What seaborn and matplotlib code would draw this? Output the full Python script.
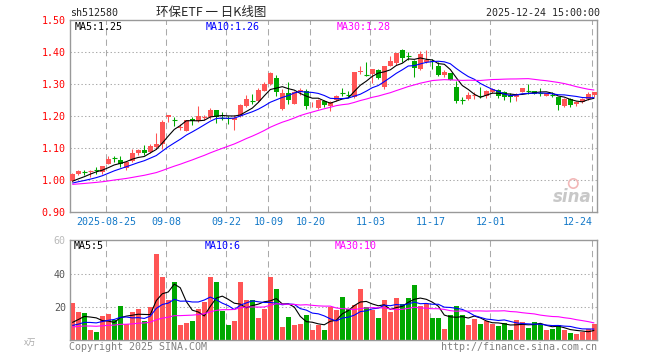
import numpy as np
import pandas as pd
import matplotlib
matplotlib.use('Agg')
import matplotlib.pyplot as plt
import seaborn as sns

# ---------- dados (sh512580, 2025-08-15 .. 2025-12-24) ----------
open_ = [0.998, 1.021, 1.027, 1.026, 1.032, 1.025, 1.052, 1.070, 1.064, 1.037,
         1.061, 1.086, 1.096, 1.088, 1.105, 1.112, 1.199, 1.189, 1.162, 1.155,
         1.192, 1.184, 1.195, 1.199, 1.219, 1.197, 1.195, 1.188, 1.201, 1.233,
         1.250, 1.249, 1.280, 1.300, 1.321, 1.222, 1.274, 1.239, 1.275, 1.279,
         1.237, 1.225, 1.249, 1.233, 1.251, 1.275, 1.270, 1.260, 1.339, 1.331,
         1.331, 1.345, 1.293, 1.357, 1.366, 1.407, 1.388, 1.374, 1.348, 1.370,
         1.375, 1.357, 1.329, 1.334, 1.290, 1.252, 1.254, 1.264, 1.267, 1.262,
         1.277, 1.281, 1.275, 1.267, 1.259, 1.277, 1.280, 1.279, 1.273, 1.265,
         1.268, 1.259, 1.233, 1.253, 1.238, 1.245, 1.254, 1.267]
close = [1.019, 1.028, 1.026, 1.028, 1.031, 1.045, 1.067, 1.069, 1.052, 1.058,
         1.084, 1.094, 1.084, 1.108, 1.112, 1.183, 1.204, 1.188, 1.168, 1.187,
         1.185, 1.201, 1.197, 1.220, 1.199, 1.196, 1.194, 1.196, 1.235, 1.254,
         1.249, 1.282, 1.300, 1.334, 1.275, 1.272, 1.251, 1.277, 1.282, 1.233,
         1.240, 1.251, 1.235, 1.246, 1.265, 1.273, 1.268, 1.337, 1.342, 1.329,
         1.348, 1.319, 1.357, 1.373, 1.397, 1.383, 1.387, 1.350, 1.395, 1.376,
         1.373, 1.329, 1.340, 1.313, 1.248, 1.251, 1.267, 1.266, 1.265, 1.280,
         1.284, 1.264, 1.259, 1.261, 1.269, 1.289, 1.279, 1.271, 1.272, 1.272,
         1.267, 1.235, 1.254, 1.236, 1.246, 1.255, 1.270, 1.275]
high = [1.024, 1.033, 1.032, 1.031, 1.042, 1.046, 1.075, 1.075, 1.075, 1.060,
        1.098, 1.099, 1.110, 1.112, 1.147, 1.189, 1.205, 1.198, 1.177, 1.188,
        1.197, 1.233, 1.203, 1.225, 1.220, 1.212, 1.201, 1.203, 1.237, 1.266,
        1.271, 1.287, 1.307, 1.340, 1.330, 1.284, 1.306, 1.278, 1.288, 1.284,
        1.246, 1.253, 1.252, 1.248, 1.266, 1.288, 1.280, 1.338, 1.358, 1.370,
        1.348, 1.347, 1.357, 1.390, 1.399, 1.409, 1.400, 1.376, 1.405, 1.407,
        1.379, 1.371, 1.345, 1.335, 1.311, 1.261, 1.277, 1.277, 1.291, 1.282,
        1.288, 1.284, 1.280, 1.272, 1.272, 1.290, 1.301, 1.280, 1.290, 1.274,
        1.275, 1.261, 1.256, 1.256, 1.249, 1.257, 1.275, 1.277]
low = [0.996, 1.017, 1.017, 1.011, 1.021, 1.019, 1.050, 1.058, 1.042, 1.033,
       1.058, 1.079, 1.079, 1.085, 1.098, 1.098, 1.181, 1.170, 1.157, 1.153,
       1.174, 1.183, 1.187, 1.191, 1.180, 1.188, 1.175, 1.157, 1.198, 1.230,
       1.237, 1.246, 1.279, 1.298, 1.262, 1.220, 1.240, 1.237, 1.267, 1.223,
       1.230, 1.222, 1.230, 1.218, 1.249, 1.262, 1.259, 1.258, 1.332, 1.326,
       1.305, 1.316, 1.285, 1.356, 1.361, 1.371, 1.376, 1.324, 1.345, 1.366,
       1.347, 1.326, 1.324, 1.312, 1.241, 1.239, 1.251, 1.253, 1.256, 1.256,
       1.272, 1.258, 1.251, 1.246, 1.249, 1.276, 1.270, 1.269, 1.265, 1.262,
       1.259, 1.220, 1.230, 1.230, 1.233, 1.243, 1.250, 1.259]
volume = [22.6, 17.2, 16.4, 6.3, 4.8, 14.5, 15.8, 12.1, 20.6, 9.5,
          17.2, 18.8, 11.5, 20.0, 51.5, 37.8, 24.2, 35.0, 9.1, 10.3,
          11.7, 18.8, 23.2, 37.8, 35.1, 17.6, 9.1, 11.7, 35.1, 24.0,
          24.2, 13.5, 18.8, 37.8, 30.9, 8.1, 13.9, 9.1, 9.7, 15.2,
          6.3, 9.1, 6.3, 20.2, 18.2, 25.7, 18.8, 21.2, 30.9, 20.0,
          18.2, 13.3, 24.2, 17.0, 25.5, 21.8, 25.5, 33.3, 20.6, 21.8,
          13.3, 13.3, 6.7, 15.2, 20.6, 15.2, 9.1, 12.7, 9.7, 11.5,
          9.7, 8.5, 10.1, 6.1, 12.1, 10.9, 7.3, 10.9, 9.7, 6.1,
          6.7, 9.1, 6.1, 4.2, 3.6, 4.8, 7.0, 10.0]

# fechamentos / volumes anteriores à janela (só alimentam as médias móveis)
pre_close = [0.985, 0.982, 0.978, 0.980, 0.986, 0.990, 0.984, 0.979, 0.983, 0.988,
             0.992, 0.987, 0.981, 0.985, 0.990, 0.994, 0.989, 0.985, 0.982, 0.986,
             0.984, 0.988, 0.985, 0.983, 0.987, 0.990, 0.992, 0.988, 0.995]
pre_volume = [6.5, 8.2, 7.0, 9.5, 5.8, 7.4, 8.8, 6.2, 7.9, 10.1,
              6.8, 7.2, 5.5, 8.6, 9.0, 6.4, 7.7, 8.3, 6.0, 7.1,
              9.2, 5.9, 6.6, 7.5, 6.3, 8.4, 7.0, 8.1, 7.3]

tick_idx = [6, 16, 26, 33, 40, 50, 60, 70, 87]
tick_lbl = ['2025-08-25', '09-08', '09-22', '10-09', '10-20', '11-03', '11-17', '12-01', '12-24']
price_ticks = [0.90, 1.00, 1.10, 1.20, 1.30, 1.40, 1.50]
vol_ticks = [20, 40, 60]

RED = '#FF5555'
GREEN = '#00A800'
GRID = '#AAAAAA'
FRAME = '#999999'
MONO = 'DejaVu Sans Mono'
FS = 7.2

# ---------- preparação ----------
o = np.array(open_); c = np.array(close); h = np.array(high); l = np.array(low)
v = np.array(volume)
x = np.arange(len(c))


def media_movel(pre, vals, w):
    s = pd.Series(list(pre) + list(vals))
    return s.rolling(w).mean().to_numpy()[len(pre):]


ma_p = {w: media_movel(pre_close, close, w) for w in (5, 10, 30)}
ma_v = {w: media_movel(pre_volume, volume, w) for w in (5, 10, 30)}
ma_cor = {5: 'black', 10: '#0000FF', 30: '#FF00FF'}

sns.set_style('white')
plt.rcParams['font.family'] = [MONO, 'Noto Sans CJK SC']
plt.rcParams['lines.solid_capstyle'] = 'butt'

W, H = 660, 360
fig = plt.figure(figsize=(W / 100, H / 100), dpi=100)


def rect(esq, topo, dir_, base):
    return [esq / W, 1 - base / H, (dir_ - esq) / W, (base - topo) / H]


def texto(px, py, s, **kw):
    fig.text(px / W, 1 - py / H, s, va='center', **kw)


ax = fig.add_axes(rect(70, 20.3, 597, 212.3))
axv = fig.add_axes(rect(70, 240.3, 597, 340.3))

for a in (ax, axv):
    a.set_xlim(-0.38, 87.45)
    for sp in a.spines.values():
        sp.set_color(FRAME)
        sp.set_linewidth(1.0)
    for t in tick_idx:
        a.axvline(t - 0.33, color=GRID, lw=0.75, dashes=(6, 4), zorder=0)

# ---------- 1. K-line ----------
cor = np.where(c > o, RED, GREEN)
corpo = np.abs(c - o)
doji = corpo < 0.0025
ax.vlines(x, l, h, colors=cor, lw=0.75, zorder=2)
ax.bar(x[~doji], corpo[~doji], bottom=np.minimum(o, c)[~doji], width=0.78,
       color=cor[~doji], lw=0, zorder=3)
ax.hlines(c[doji], x[doji] - 0.39, x[doji] + 0.39, colors=cor[doji], lw=0.8, zorder=3)

for w in (5, 10, 30):
    sns.lineplot(x=x, y=ma_p[w], ax=ax, color=ma_cor[w], lw=0.8, legend=False, zorder=4)

for yv in price_ticks[1:-1]:
    ax.axhline(yv, color=GRID, lw=0.75, dashes=(1.3, 2.2), zorder=0)

ax.set_ylim(0.90, 1.50)
ax.set_yticks(price_ticks)
ax.set_yticklabels([f'{p:.2f}' for p in price_ticks])
ax.set_xticks(np.array(tick_idx) - 0.33)
ax.set_xticklabels(tick_lbl)
ax.get_xticklabels()[-1].set_ha('right')
ax.tick_params(axis='y', length=0, pad=3, labelsize=FS, labelcolor='#FF0000')
ax.tick_params(axis='x', length=0, pad=3.5, labelsize=FS, labelcolor='#1278C8')
ax.set_xlabel('')
ax.set_ylabel('')

ax.scatter([0.955], [0.15], transform=ax.transAxes, s=45, facecolor='none',
           edgecolor='#F2B8B8', lw=1.2, zorder=1)
ax.text(0.99, 0.035, 'sina', transform=ax.transAxes, ha='right', va='bottom',
        fontsize=12, fontstyle='italic', fontweight='bold', color='#C8C8C8',
        family='DejaVu Sans', zorder=1)

# ---------- 2. volume ----------
axv.bar(x, v, width=0.78, color=cor, lw=0, zorder=2)
for w in (5, 10, 30):
    sns.lineplot(x=x, y=ma_v[w], ax=axv, color=ma_cor[w], lw=0.8, legend=False, zorder=4)
for yv in vol_ticks[:-1]:
    axv.axhline(yv, color=GRID, lw=0.75, dashes=(1.3, 2.2), zorder=0)
axv.set_ylim(0, 60)
axv.set_yticks(vol_ticks)
axv.set_xticks([])
axv.tick_params(axis='y', length=0, pad=3, labelsize=FS, labelcolor='#555555')
axv.get_yticklabels()[-1].set_color('#BBBBBB')
axv.set_xlabel('')
axv.set_ylabel('')

# ---------- 3. textos ----------
texto(70, 12.7, 'sh512580', fontsize=FS, ha='left')
texto(211, 12.7, '环保ETF 一 日K线图', fontsize=9, ha='center',
      family=['Noto Sans CJK SC', 'DejaVu Sans'])
texto(600, 12.7, '2025-12-24 15:00:00', fontsize=FS, ha='right')

texto(75, 26.7, 'MA5:1.25', fontsize=FS, color='black', ha='left')
texto(206, 26.7, 'MA10:1.26', fontsize=FS, color='#0000FF', ha='left')
texto(337, 26.7, 'MA30:1.28', fontsize=FS, color='#FF00FF', ha='left')

texto(74, 246, 'MA5:5', fontsize=FS, color='black', ha='left')
texto(205, 246, 'MA10:6', fontsize=FS, color='#0000FF', ha='left')
texto(335, 246, 'MA30:10', fontsize=FS, color='#FF00FF', ha='left')

texto(30, 342, 'x万', fontsize=6, color='#AAAAAA', ha='center',
      family=['Noto Sans CJK SC', 'DejaVu Sans'])
texto(69, 346.5, 'Copyright 2025 SINA.COM', fontsize=FS, color='#808080', ha='left')
texto(597, 346.5, 'http://finance.sina.com.cn', fontsize=FS, color='#808080', ha='right')

fig.savefig('out.png', dpi=100)
plt.close(fig)
